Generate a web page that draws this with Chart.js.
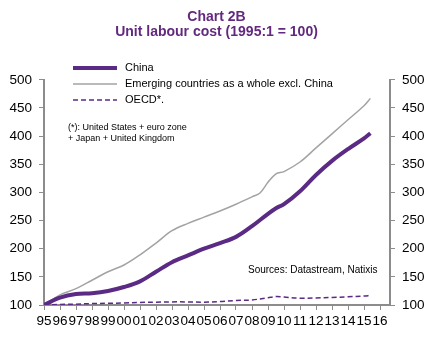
<!DOCTYPE html>
<html>
<head>
<meta charset="utf-8">
<script src="https://cdn.jsdelivr.net/npm/chart.js@4.4.1/dist/chart.umd.min.js"></script>
<style>
  html, body { margin: 0; padding: 0; background: #fff; }
  #wrap { width: 433px; height: 337px; }
</style>
</head>
<body>
<div id="wrap"><canvas id="chart" width="433" height="337"></canvas></div>
<script>
// Years (fractional = quarter within year) and values
const chinaYears = [1995, 1996, 1997, 1998, 1999, 2000, 2001, 2002, 2003, 2004, 2005, 2006, 2007, 2008, 2009, 2009.5, 2010, 2011, 2012, 2013, 2014, 2015, 2015.4];
const chinaValues = [100, 113, 119.5, 121, 125, 132, 142, 159, 176, 188, 200, 210, 221, 240, 262, 272, 279, 302, 331, 356, 377, 396, 405];

const emergingYears = [1995, 1996, 1997, 1998, 1999, 2000, 2001, 2002, 2003, 2004, 2005, 2006, 2007, 2008, 2008.5, 2009, 2009.5, 2010, 2011, 2012, 2013, 2014, 2015, 2015.4];
const emergingValues = [100, 118, 129, 144, 159, 171, 189, 210, 232, 245, 256, 267, 279, 292, 299, 318, 333, 337, 354, 379, 404, 429, 454, 467];

const oecdYears = [1995, 1996, 1997, 1998, 1999, 2000, 2001, 2002, 2003, 2004, 2005, 2006, 2007, 2008, 2009, 2009.5, 2010, 2011, 2012, 2013, 2014, 2015, 2015.4];
const oecdValues = [100, 101, 101.5, 102.5, 103, 103.5, 104.5, 105, 105.5, 105.5, 105, 106, 108, 109, 113, 115, 114, 112, 112.5, 113.5, 114.5, 116, 117];

const yTicks = [100, 150, 200, 250, 300, 350, 400, 450, 500];
const xTickYears = [1995, 1996, 1997, 1998, 1999, 2000, 2001, 2002, 2003, 2004, 2005, 2006, 2007, 2008, 2009, 2010, 2011, 2012, 2013, 2014, 2015, 2016];

const footnote = ['(*): United States + euro zone', '+ Japan + United Kingdom'];
const sources = 'Sources: Datastream, Natixis';

const FONT = '"Liberation Sans", Arial, sans-serif';
const AXIS_GREY = '#8c8c8c';
const PURPLE = '#5a2a84';

function toPoints(xs, ys) {
    return xs.map((x, i) => ({ x, y: ys[i] }));
}

// Legend + notes drawn inside the plot, as in the original
const notesPlugin = {
    id: 'notes',
    afterDraw(chart) {
        const ctx = chart.ctx;
        const left = chart.chartArea.left;
        ctx.save();
        ctx.font = '11px ' + FONT;
        ctx.textBaseline = 'middle';
        chart.data.datasets.forEach((ds, i) => {
            const y = 68 + i * 16;
            ctx.beginPath();
            ctx.strokeStyle = ds.borderColor;
            ctx.lineWidth = ds.borderWidth;
            ctx.setLineDash(ds.borderDash || []);
            ctx.moveTo(left + 29, y);
            ctx.lineTo(left + 73, y);
            ctx.stroke();
            ctx.setLineDash([]);
            ctx.fillStyle = '#000';
            ctx.fillText(ds.label, left + 81, y);
        });
        ctx.font = '9px ' + FONT;
        footnote.forEach((line, i) => ctx.fillText(line, left + 24, 128 + i * 11));
        ctx.font = '10px ' + FONT;
        ctx.fillText(sources, 248, 270);
        ctx.restore();
    }
};

const yAxisCommon = {
    type: 'linear',
    min: 100,
    max: 500,
    border: { color: AXIS_GREY, width: 2 },
    grid: { drawOnChartArea: false, color: AXIS_GREY, tickLength: 5 },
    afterBuildTicks: axis => { axis.ticks = yTicks.map(v => ({ value: v })); },
    ticks: { color: '#000', font: { family: FONT, size: 13.5 }, padding: 7 }
};

new Chart(document.getElementById('chart'), {
    type: 'line',
    data: {
        datasets: [
            {
                label: 'China',
                data: toPoints(chinaYears, chinaValues),
                borderColor: PURPLE,
                borderWidth: 4,
                pointRadius: 0,
                tension: 0.35
            },
            {
                label: 'Emerging countries as a whole excl. China',
                data: toPoints(emergingYears, emergingValues),
                borderColor: '#a3a3a3',
                borderWidth: 1.5,
                pointRadius: 0,
                tension: 0.35
            },
            {
                label: 'OECD*.',
                data: toPoints(oecdYears, oecdValues),
                borderColor: PURPLE,
                borderWidth: 1.5,
                borderDash: [5, 3],
                pointRadius: 0,
                tension: 0.35
            }
        ]
    },
    options: {
        responsive: false,
        animation: false,
        layout: { padding: { left: 0, right: 0, top: 0, bottom: 0 } },
        plugins: {
            legend: { display: false },
            tooltip: { enabled: false },
            title: {
                display: true,
                text: ['Chart 2B', 'Unit labour cost (1995:1 = 100)'],
                color: '#62297f',
                font: { family: FONT, size: 14, weight: 'bold', lineHeight: 1.1 },
                padding: { top: 9, bottom: 40 }
            }
        },
        scales: {
            x: {
                type: 'linear',
                min: 1995,
                max: 2016.625,
                border: { color: AXIS_GREY, width: 2 },
                grid: { drawOnChartArea: false, color: AXIS_GREY, tickLength: 5 },
                afterBuildTicks: axis => { axis.ticks = xTickYears.map(v => ({ value: v })); },
                afterFit: axis => { axis.height = 32; },
                ticks: {
                    color: '#000',
                    font: { family: FONT, size: 13.5 },
                    autoSkip: false,
                    maxRotation: 0,
                    padding: 3,
                    callback: v => String(v % 100).padStart(2, '0')
                }
            },
            y: Object.assign({}, yAxisCommon, {
                position: 'left',
                afterFit: axis => { axis.width = 44; }
            }),
            y2: Object.assign({}, yAxisCommon, {
                position: 'right',
                afterFit: axis => { axis.width = 43; }
            })
        }
    },
    plugins: [notesPlugin]
});
</script>
</body>
</html>
